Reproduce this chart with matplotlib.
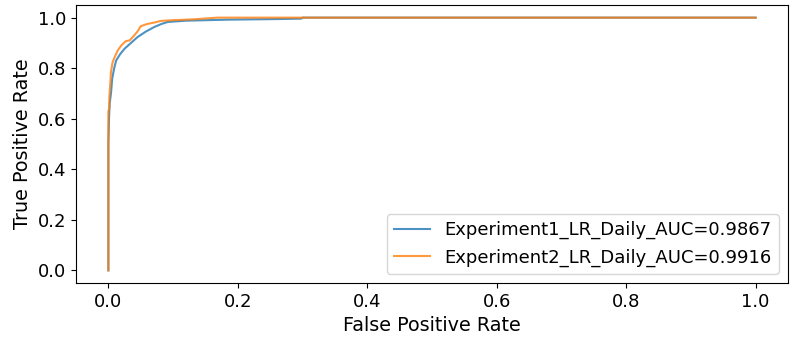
import matplotlib
matplotlib.use("Agg")
import matplotlib.pyplot as plt

labels = ["Experiment1_LR_Daily_AUC=0.9867", "Experiment2_LR_Daily_AUC=0.9916"]

fpr1 = [0.0, 0.0, 0.001, 0.002, 0.004, 0.006, 0.009, 0.012, 0.018, 0.025, 0.035,
        0.045, 0.058, 0.071, 0.082, 0.092, 0.12, 0.184, 0.25, 0.298, 0.3, 1.0]
tpr1 = [0.0, 0.50, 0.60, 0.66, 0.70, 0.76, 0.80, 0.83, 0.855, 0.877, 0.90,
        0.923, 0.945, 0.963, 0.975, 0.983, 0.988, 0.992, 0.994, 0.996, 1.0, 1.0]

fpr2 = [0.0, 0.0, 0.0015, 0.0015, 0.003, 0.004, 0.0066, 0.010, 0.0144, 0.020, 0.027,
        0.033, 0.040, 0.045, 0.050, 0.060, 0.070, 0.081, 0.10, 0.13, 0.168, 1.0]
tpr2 = [0.0, 0.63, 0.64, 0.686, 0.74, 0.785, 0.824, 0.845, 0.87, 0.89, 0.907,
        0.91, 0.93, 0.945, 0.966, 0.975, 0.98, 0.987, 0.99, 0.993, 1.0, 1.0]

fig = plt.figure(figsize=(7.91, 3.44), dpi=100)
ax = fig.add_axes([76 / 791, 1 - 283 / 344, (788 - 76) / 791, (283 - 5) / 344])
ax.plot(fpr1, tpr1, color="#1f77b4", alpha=0.8, label=labels[0])
ax.plot(fpr2, tpr2, color="#ff7f0e", alpha=0.8, label=labels[1])
ax.set_xlim(-0.05, 1.05)
ax.set_ylim(-0.05, 1.05)
ax.set_xticks([0.0, 0.2, 0.4, 0.6, 0.8, 1.0])
ax.set_yticks([0.0, 0.2, 0.4, 0.6, 0.8, 1.0])
ax.tick_params(labelsize=13)
ax.set_xlabel("False Positive Rate", fontsize=13.8)
ax.set_ylabel("True Positive Rate", fontsize=13.8)
ax.legend(loc="lower right", fontsize=13)
fig.savefig("out.png", dpi=100)
